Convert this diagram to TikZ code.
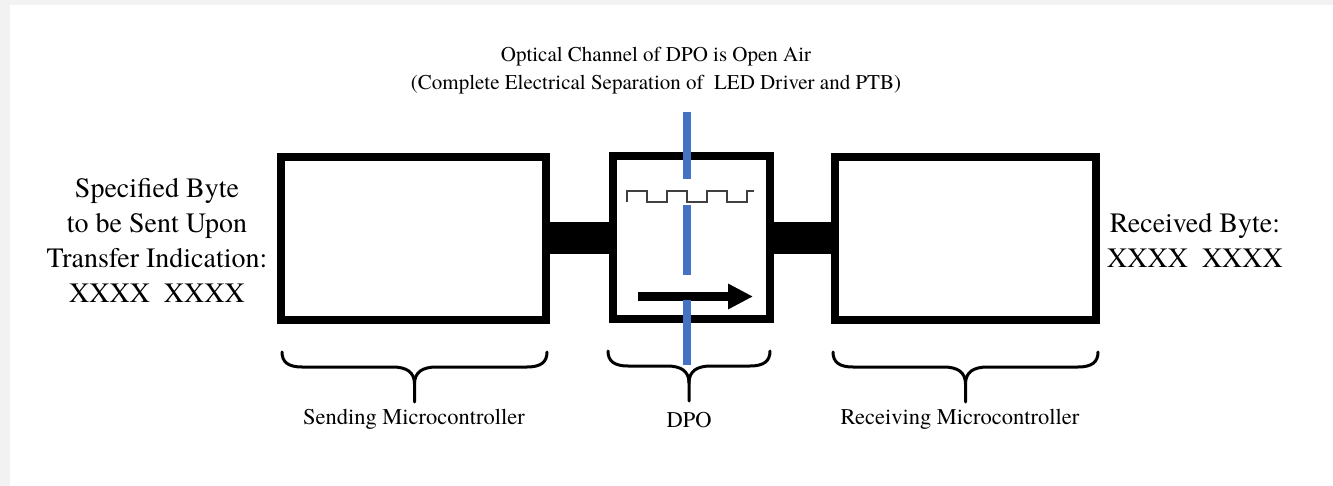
\documentclass[tikz,border=0pt]{standalone}
\usepackage{fontspec}
\setmainfont{TeX Gyre Termes}
\usetikzlibrary{arrows.meta}
\definecolor{bggray}{HTML}{F2F2F2}
\definecolor{optblue}{HTML}{4472C4}
\definecolor{wavegray}{HTML}{404040}
\tikzset{
  mcbox/.style={draw=black, line width=8pt, fill=white, rectangle, inner sep=0pt, minimum height=163pt},
  busbar/.style={draw=black, line width=32pt},
  optline/.style={draw=optblue, line width=8.5pt},
  wave/.style={draw=wavegray, line width=2pt},
  bracestyle/.style={draw=black, line width=3pt, line cap=round},
  bigtext/.style={font=\fontsize{28}{35}\selectfont, align=center, inner sep=0pt},
  titletext/.style={font=\fontsize{21}{28}\selectfont, align=center, inner sep=0pt},
  smalltext/.style={font=\fontsize{22.5}{28}\selectfont, align=center, inner sep=0pt},
  pics/ubrace/.style={code={
    \draw[bracestyle] ({-#1},0) .. controls ({-#1},10) and ({-#1+6},15) .. ({-#1+20},15)
      -- (-22,15) .. controls (-8,15) and (0,20) .. (0,32) -- (0,50);
    \draw[bracestyle] ({#1},0) .. controls ({#1},10) and ({#1-6},15) .. ({#1-20},15)
      -- (22,15) .. controls (8,15) and (0,20) .. (0,32);
  }}
}
\begin{document}
\begin{tikzpicture}[x=1pt, y=-1pt]
\useasboundingbox (0,0) rectangle (1333,486);
\fill[bggray] (0,0) rectangle (1333,486);
\fill[white] (10,5) rectangle (1333,486);

% boxes
\node[mcbox, minimum width=265pt] (send) at (413.5,238.5) {};
\node[mcbox, minimum width=157pt] (dpo) at (691.5,237.5) {};
\node[mcbox, minimum width=261pt] (recv) at (965.5,238.5) {};

% connecting bars
\draw[busbar] (send.east |- 0,238) -- (dpo.west |- 0,238);
\draw[busbar] (dpo.east |- 0,238) -- (recv.west |- 0,238);

% square wave
\coordinate (w0) at (627,202);
\draw[wave] (w0) -- (627,191) -- (647,191) -- (647,202) -- (667,202) -- (667,191)
  -- (687,191) -- (687,202) -- (707,202) -- (707,191) -- (727,191) -- (727,202)
  -- (747,202) -- (747,191) -- (754,191);

% arrow
\coordinate (a0) at (638,296.5);
\coordinate (a1) at (753,296.5);
\draw[line width=9pt, -{Triangle[length=25pt,width=24pt]}] (a0) -- (a1);

% optical channel (blue)
\coordinate (b0) at (687,112);
\coordinate (b1) at (687,179);
\coordinate (b2) at (687,205);
\coordinate (b3) at (687,275);
\coordinate (b4) at (687,300);
\coordinate (b5) at (687,365);
\draw[optline] (b0) -- (b1);
\draw[optline] (b2) -- (b3);
\draw[optline] (b4) -- (b5);

% title
\node[titletext] (title) at (656,71) {Optical Channel of DPO is Open Air\\(Complete Electrical Separation of~~LED Driver and PTB)};

% side texts
\node[bigtext] (sendtxt) at (157,240) {Specified Byte\\to be Sent Upon\\Transfer Indication:\\XXXX~~XXXX};
\node[bigtext] (recvtxt) at (1195,240) {Received Byte:\\XXXX~~XXXX};

% braces
\pic at (414.5,352) {ubrace=132.5};
\pic at (689,351) {ubrace=81};
\pic at (965.5,352) {ubrace=132.5};

\node[smalltext] (sendlbl) at (414,419) {Sending Microcontroller};
\node[smalltext] (dpolbl) at (689,420) {DPO};
\node[smalltext] (recvlbl) at (960,419) {Receiving Microcontroller};
\end{tikzpicture}
\end{document}
